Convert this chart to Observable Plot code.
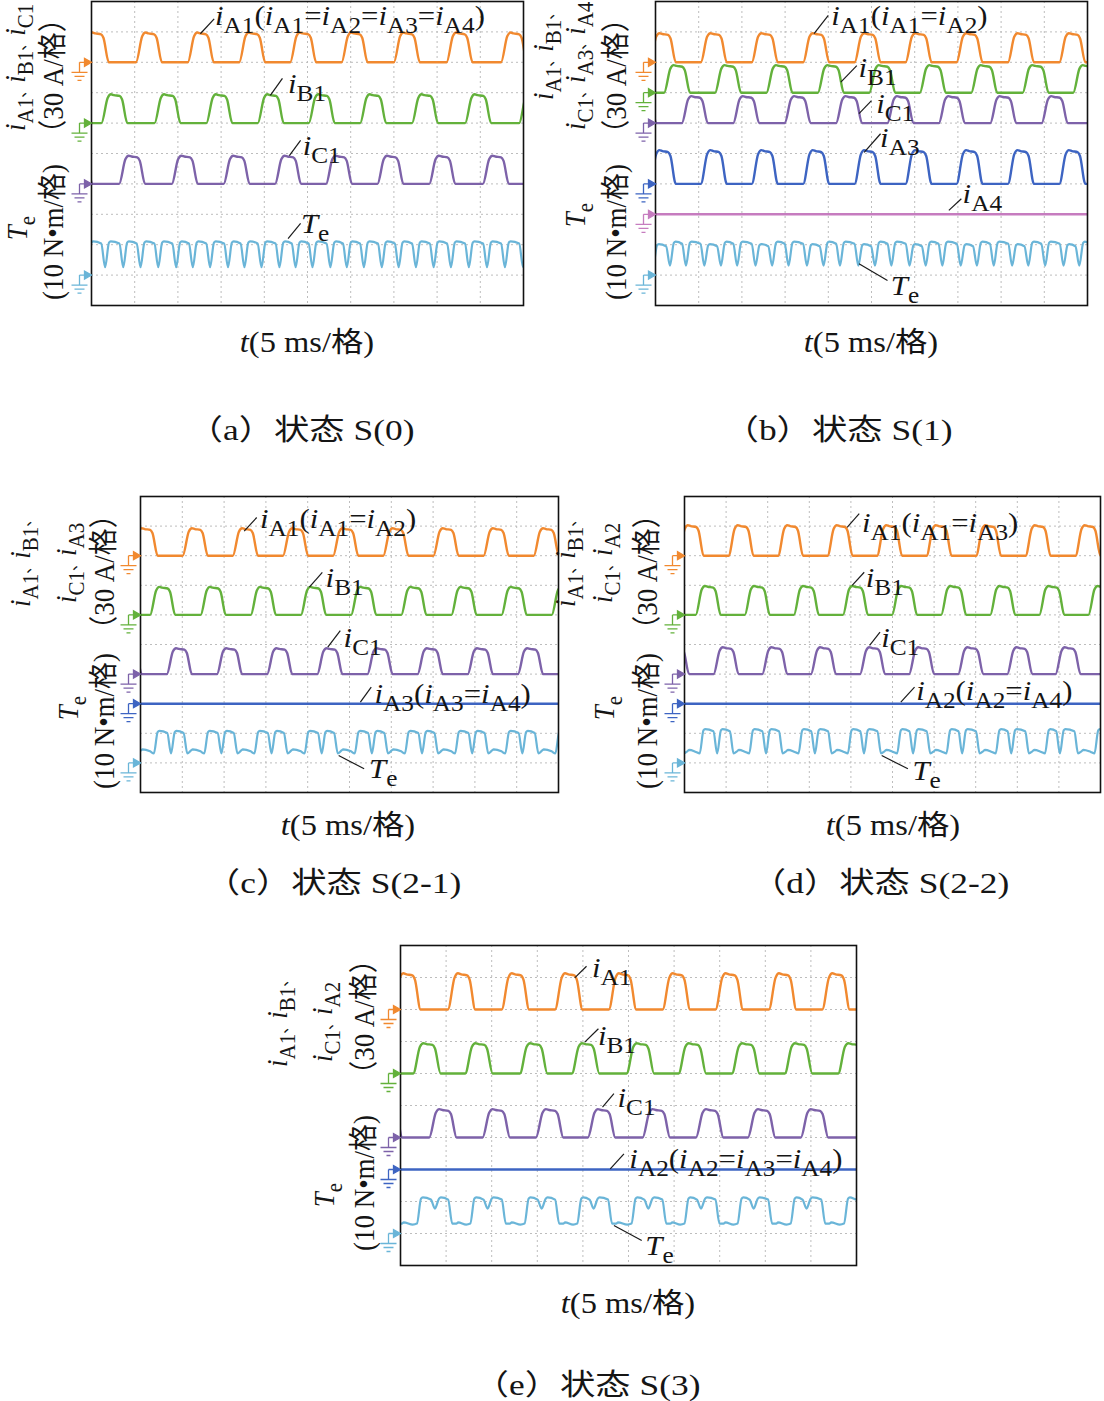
<!DOCTYPE html>
<html><head><meta charset="utf-8">
<script src="https://cdn.jsdelivr.net/npm/d3@7"></script>
<script src="https://cdn.jsdelivr.net/npm/@observablehq/plot@0.6"></script>
<style>
html,body{margin:0;padding:0;background:#fff;}
#page{position:relative;width:1104px;height:1401px;overflow:hidden;background:#fff;}
#page > svg{position:absolute;margin:0;overflow:visible;}
</style></head><body><div id="page"></div>
<script>
// ---------------- data: pulse centres (time, in 5 ms divisions) ----------------
// (a) S(0)
const a_iA1 = [0.10, 1.33, 2.53, 3.72, 4.90, 6.09, 7.30, 8.52, 9.78];
const a_iB1 = [0.53, 1.76, 2.96, 4.15, 5.33, 6.52, 7.72, 8.95, 10.20];
const a_iC1 = [-0.28, 0.94, 2.16, 3.36, 4.55, 5.73, 6.92, 8.12, 9.36];
const a_amp = [0.95, 0.92, 0.90];            // current pulse heights (div)
const a_Te  = [1.07, 1.07, 1.07, 0.26];      // Te during A, B, C conduction and at commutation dips (div)
// (b) S(1)
const b_iA1 = [0.17, 1.35, 2.53, 3.72, 4.91, 6.09, 7.27, 8.46, 9.65];
const b_iB1 = [0.50, 1.68, 2.87, 4.06, 5.25, 6.42, 7.61, 8.80, 9.97];
const b_iC1 = [-0.28, 0.91, 2.10, 3.29, 4.48, 5.67, 6.86, 8.05, 9.24];
const b_iA3 = [0.17, 1.35, 2.53, 3.72, 4.91, 6.09, 7.27, 8.46, 9.65];
const b_iA4 = [];
const b_amp = [0.93, 0.88, 0.86, 1.08, 0];
const b_Te  = [0.98, 1.06, 1.06, 0.31];
// (c) S(2-1)
const c_iA1 = [0.11, 1.31, 2.51, 3.71, 4.91, 6.11, 7.31, 8.51, 9.71];
const c_iB1 = [0.53, 1.74, 2.94, 4.14, 5.34, 6.54, 7.74, 8.94, 10.14];
const c_iC1 = [-0.27, 0.93, 2.13, 3.33, 4.53, 5.73, 6.93, 8.13, 9.33];
const c_iA3 = [];
const c_amp = [0.90, 0.92, 0.85, 0];
const c_Te  = [0.42, 1.04, 1.04, 0.32];
// (d) S(2-2)
const d_iA1 = [0.16, 1.36, 2.55, 3.74, 4.93, 6.12, 7.31, 8.50, 9.70];
const d_iB1 = [0.57, 1.75, 2.93, 4.11, 5.29, 6.47, 7.65, 8.83, 10.01];
const d_iC1 = [-0.19, 1.00, 2.17, 3.34, 4.52, 5.70, 6.88, 8.06, 9.22];
const d_iA2 = [];
const d_amp = [1.00, 0.95, 0.88, 0];
const d_Te  = [0.40, 1.10, 1.10, 0.32];
// (e) S(3)
const e_iA1 = [0.14, 1.34, 2.52, 3.69, 4.87, 6.05, 7.21, 8.38, 9.55];
const e_iB1 = [0.58, 1.72, 2.92, 4.06, 5.26, 6.40, 7.57, 8.73, 9.90];
const e_iC1 = [-0.26, 0.93, 2.10, 3.27, 4.41, 5.61, 6.78, 7.92, 9.08];
const e_iA2 = [];
const e_amp = [1.10, 0.92, 0.86, 0];
const e_Te  = [0.31, 1.09, 1.09, 0.78];

// texts
const captions = ["（a）状态 S(0)", "（b）状态 S(1)", "（c）状态 S(2-1)", "（d）状态 S(2-2)", "（e）状态 S(3)"];
const xTitle = "t(5 ms/格)";
const unitI = "（30 A/格）", unitT = "(10 N•m/格)";

// ---------------- styles ----------------
const ORANGE="#f1892f", GREEN="#63b13b", PURPLE="#7d62a9", BLUE="#3d64c2", PINK="#c67cbf", CYAN="#6ab5d8";
const FONT = "'Liberation Serif','Times New Roman','Noto Sans CJK SC',serif";

// ---------------- layout ----------------
const panels = [
 {frame:[91,1,432,304], traces:[[a_iA1,8,a_amp[0],ORANGE],[a_iB1,6,a_amp[1],GREEN],[a_iC1,4,a_amp[2],PURPLE]],
  te:[a_iA1,a_iB1,a_iC1,a_Te],
  ylab:[["i_{A1}、i_{B1}、i_{C1}",25,131,"start"],["T_{e}",27,228,"middle"],[unitI,63,76,"middle"],[unitT,63,232,"middle"]],
  xlab:[307,352], cap:[301,440],
  notes:[["i_{A1}(i_{A1}=i_{A2}=i_{A3}=i_{A4})",2.52,8.94,2.84,9.43,2.87,9.21],
         ["i_{B1}",4.14,6.91,4.42,7.47,4.56,6.97],
         ["i_{C1}",4.58,4.93,4.84,5.43,4.90,4.93],
         ["T_{e}",4.55,2.2,4.84,2.7,4.86,2.37]]},
 {frame:[655,1,432,304], traces:[[b_iA1,8,b_amp[0],ORANGE],[b_iB1,7,b_amp[1],GREEN],[b_iC1,6,b_amp[2],PURPLE],[b_iA3,4,b_amp[3],BLUE],[b_iA4,3,b_amp[4],PINK]],
  te:[b_iA1,b_iB1,b_iC1,b_Te],
  ylab:[["i_{A1}、i_{B1}、",553,100,"start"],["i_{C1}、i_{A3}、i_{A4}",585,130,"start"],["T_{e}",585,215,"middle"],[unitI,626,76,"middle"],[unitT,626,232,"middle"]],
  xlab:[871,352], cap:[838,440],
  notes:[["i_{A1}(i_{A1}=i_{A2})",3.67,8.94,4.0,9.54,4.08,9.21],
         ["i_{B1}",4.29,7.35,4.66,7.89,4.71,7.5],
         ["i_{C1}",4.71,6.31,5.0,6.74,5.12,6.32],
         ["i_{A3}",4.83,5.04,5.21,5.65,5.21,5.2],
         ["i_{A4}",6.79,3.13,7.08,3.51,7.12,3.36],
         ["T_{e}",4.71,1.37,5.37,0.82,5.46,0.33]]},
 {frame:[140,496,418,296], traces:[[c_iA1,8,c_amp[0],ORANGE],[c_iB1,6,c_amp[1],GREEN],[c_iC1,4,c_amp[2],PURPLE],[c_iA3,3,c_amp[3],BLUE]],
  te:[c_iA1,c_iB1,c_iC1,c_Te],
  ylab:[["i_{A1}、i_{B1}、",30,607,"start"],["i_{C1}、i_{A3}",76,603,"start"],["T_{e}",78,708,"middle"],[unitI,114,572,"middle"],[unitT,114,721,"middle"]],
  xlab:[348,835], cap:[333,893],
  notes:[["i_{A1}(i_{A1}=i_{A2})",2.48,8.83,2.78,9.29,2.87,8.92],
         ["i_{B1}",4.04,6.94,4.35,7.44,4.44,6.94],
         ["i_{C1}",4.48,4.91,4.78,5.47,4.87,4.91],
         ["i_{A3}(i_{A3}=i_{A4})",5.26,3.05,5.52,3.56,5.61,3.0],
         ["T_{e}",4.74,1.25,5.35,0.8,5.48,0.47]]},
 {frame:[684,496,416,296], traces:[[d_iA1,8,d_amp[0],ORANGE],[d_iB1,6,d_amp[1],GREEN],[d_iC1,4,d_amp[2],PURPLE],[d_iA2,3,d_amp[3],BLUE]],
  te:[d_iA1,d_iB1,d_iC1,d_Te],
  ylab:[["i_{A1}、i_{B1}、",575,607,"start"],["i_{C1}、i_{A2}",612,603,"start"],["T_{e}",614,708,"middle"],[unitI,657,572,"middle"],[unitT,657,721,"middle"]],
  xlab:[893,835], cap:[880,893],
  notes:[["i_{A1}(i_{A1}=i_{A3})",3.91,8.96,4.2,9.42,4.28,8.79],
         ["i_{B1}",4.03,7.0,4.32,7.44,4.37,6.94],
         ["i_{C1}",4.45,4.97,4.7,5.42,4.74,4.91],
         ["i_{A2}(i_{A2}=i_{A4})",5.2,3.05,5.53,3.56,5.58,3.11],
         ["T_{e}",4.74,1.25,5.37,0.8,5.49,0.41]]},
 {frame:[400,945,456,320], traces:[[e_iA1,8,e_amp[0],ORANGE],[e_iB1,6,e_amp[1],GREEN],[e_iC1,4,e_amp[2],PURPLE],[e_iA2,3,e_amp[3],BLUE]],
  te:[e_iA1,e_iB1,e_iC1,e_Te],
  ylab:[["i_{A1}、i_{B1}、",287,1067,"start"],["i_{C1}、i_{A2}",332,1062,"start"],["T_{e}",334,1195,"middle"],[unitI,374,1017,"middle"],[unitT,374,1183,"middle"]],
  xlab:[628,1313], cap:[587,1395],
  notes:[["i_{A1}",3.82,8.99,4.08,9.35,4.21,9.01],
         ["i_{B1}",4.04,6.98,4.34,7.4,4.34,6.88],
         ["i_{C1}",4.43,4.95,4.68,5.37,4.77,4.95],
         ["i_{A2}(i_{A2}=i_{A3}=i_{A4})",4.6,3.02,4.9,3.49,5.03,3.02],
         ["T_{e}",4.68,1.25,5.29,0.78,5.38,0.31]]}
];

// ---------------- helpers ----------------
function pulseTrace(centers, base, amp, width=0.42){
  const r=0.09, pts=[{x:-1,y:base}];
  for(const c of centers){
    const s=c-width/2, e=c+width/2;
    pts.push({x:s-r,y:base},{x:s+r*0.6,y:base+amp*0.9},{x:s+r+0.04,y:base+amp*1.03},
             {x:s+r+0.11,y:base+amp},{x:e-r,y:base+amp*0.97},{x:e-r*0.6+0.02,y:base+amp*0.85},{x:e+r,y:base});
  }
  pts.push({x:11,y:base});
  return pts;
}
function teTrace(A,B,C,lev,base){
  const segs=[...A.map(c=>({c,l:lev[0]})),...B.map(c=>({c,l:lev[1]})),...C.map(c=>({c,l:lev[2]}))].sort((p,q)=>p.c-q.c);
  const rt=0.09, pts=[];
  segs.forEach((sg,i)=>{
    const s = i>0 ? (segs[i-1].c+sg.c)/2 : sg.c-0.2;
    const e = i<segs.length-1 ? (sg.c+segs[i+1].c)/2 : sg.c+0.2;
    const L=sg.l;
    if(i===0) pts.push({x:s-1,y:base+L});
    else pts.push({x:s,y:base+Math.min(lev[3],segs[i-1].l,L)});
    pts.push({x:s+rt,y:base+L},{x:s+rt+0.04,y:base+L+0.04},{x:e-rt,y:base+L-0.03});
    if(i===segs.length-1) pts.push({x:e+1,y:base+L});
  });
  return pts;
}
const groundSymbol = {draw(ctx){
  ctx.moveTo(0,0); ctx.lineTo(-7,-4); ctx.lineTo(-7,4); ctx.closePath();
  ctx.moveTo(-7,0); ctx.lineTo(-12,0);
  ctx.moveTo(-12,0); ctx.lineTo(-12,10);
  ctx.moveTo(-20,10); ctx.lineTo(-4,10);
  ctx.moveTo(-17,14); ctx.lineTo(-7,14);
  ctx.moveTo(-14,18); ctx.lineTo(-10,18);
}};
function tokens(str){
  const out=[]; let i=0;
  while(i<str.length){
    if(str[i]==='_'&&str[i+1]==='{'){const j=str.indexOf('}',i); out.push({t:str.slice(i+2,j),sub:true,it:false}); i=j+1; continue;}
    const ch=str[i];
    if(ch==='、'){out.push({t:ch,sub:false,it:false,small:true}); i++; continue;}
    const it="iTt".includes(ch), last=out[out.length-1];
    if(last&&!last.sub&&!last.small&&last.it===it) last.t+=ch; else out.push({t:ch,it,sub:false});
    i++;
  }
  return out;
}
function richText(g,str,{x,y,size=28,sub=23,shift=8,anchor="start",rotate=false,sx=1.1,comma=15}){
  const t=g.append("text").attr("transform",`translate(${x},${y}) scale(${sx},1)`+(rotate?" rotate(-90)":""))
    .attr("font-family",FONT).attr("font-size",size).attr("text-anchor",anchor).attr("fill","#151515")
    .attr("xml:space","preserve");
  let cur=0;
  for(const tk of tokens(str)){
    const ts=t.append("tspan").text(tk.t);
    const target=tk.sub?shift:0;
    if(target!==cur){ts.attr("dy",target-cur);cur=target;}
    if(tk.sub) ts.attr("font-size",sub);
    if(tk.small) ts.attr("font-size",comma);
    if(tk.it) ts.attr("font-style","italic");
  }
  return t;
}

// ---------------- draw ----------------
const page=document.getElementById("page");
const overlay=d3.create("svg").attr("width",1104).attr("height",1401).style("left","0px").style("top","0px").style("pointer-events","none");
const ML=30, MR=4, MT=4, MB=4;

panels.forEach((p,pi)=>{
  const [L,T,W,H]=p.frame;
  const marks=[
    Plot.ruleX(d3.range(1,10),{stroke:"#bdbdbd",strokeDasharray:"2,3",strokeWidth:1}),
    Plot.ruleY(d3.range(1,10),{stroke:"#bdbdbd",strokeDasharray:"2,3",strokeWidth:1})
  ];
  const grounds=[];
  for(const [cs,base,amp,color] of p.traces){
    marks.push(Plot.line(pulseTrace(cs,base,amp),{x:"x",y:"y",stroke:color,strokeWidth:2.4,curve:"monotone-x",clip:true}));
    grounds.push({y:base,color});
  }
  marks.push(Plot.line(teTrace(...p.te,1),{x:"x",y:"y",stroke:CYAN,strokeWidth:2.2,curve:"monotone-x",clip:true}));
  grounds.push({y:1,color:CYAN});
  marks.push(Plot.frame({stroke:"#111",strokeWidth:1.6}));
  marks.push(Plot.dot(grounds,{x:()=>0,y:"y",symbol:groundSymbol,fill:"color",stroke:"color",strokeWidth:1.3}));
  const leaders=p.notes.map(n=>({x1:n[1],y1:n[2],x2:n[3],y2:n[4]}));
  marks.push(Plot.link(leaders,{x1:"x1",y1:"y1",x2:"x2",y2:"y2",stroke:"#1a1a1a",strokeWidth:1.2}));
  const plot=Plot.plot({
    width:W+ML+MR,height:H+MT+MB,marginLeft:ML,marginRight:MR,marginTop:MT,marginBottom:MB,
    x:{domain:[0,10],axis:null},y:{domain:[0,10],axis:null},color:{type:"identity"},
    style:{background:"transparent",overflow:"visible"},
    marks
  });
  const left=L-ML, top=T-MT;
  plot.style.left=left+"px"; plot.style.top=top+"px"; plot.style.position="absolute";
  page.appendChild(plot);
  const sx=plot.scale("x"), sy=plot.scale("y");
  for(const n of p.notes){
    richText(overlay,n[0],{x:left+sx.apply(n[5]),y:top+sy.apply(n[6])});
  }
  for(const [s,x,y,anchor] of p.ylab){
    richText(overlay,s,{x,y,anchor,rotate:true,sx:1.08,size:27,sub:21,shift:7});
  }
  richText(overlay,xTitle,{x:p.xlab[0],y:p.xlab[1],anchor:"middle",size:29,sx:1.12});
  richText(overlay,captions[pi],{x:p.cap[0],y:p.cap[1],anchor:"middle",size:29,sx:1.22});
});
page.appendChild(overlay.node());
</script></body></html>
